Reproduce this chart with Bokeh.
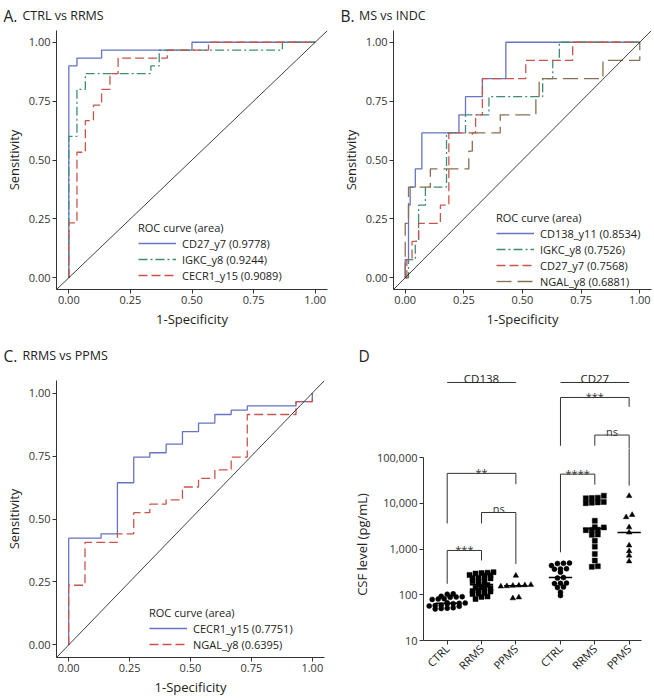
import numpy as np
from bokeh.plotting import figure
from bokeh.layouts import column, row
from bokeh.models import (Range1d, FixedTicker, PrintfTickFormatter, NumeralTickFormatter,
                          Legend, LegendItem, Slope, CustomJSTickFormatter)
from bokeh.core.properties import value
from bokeh.embed import file_html
from bokeh.resources import INLINE

FONT = "Open Sans"
BLUE = "#6674c2"
GREEN = "#3f8c78"
RED = "#c8564c"
BROWN = "#8a6f52"
INK = "#222222"
AXC = "#333333"

# ---------------- Panel A: CTRL vs RRMS ----------------
a_cd27_fpr = [0, 0, 0.033, 0.033, 0.133, 0.133, 0.5, 0.5, 1.0]
a_cd27_tpr = [0, 0.9, 0.9, 0.933, 0.933, 0.967, 0.967, 1.0, 1.0]
a_igkc_fpr = [0, 0, 0.033, 0.033, 0.067, 0.067, 0.333, 0.333, 0.367, 0.367, 0.867, 0.867, 1.0]
a_igkc_tpr = [0, 0.6, 0.6, 0.8, 0.8, 0.867, 0.867, 0.9, 0.9, 0.967, 0.967, 1.0, 1.0]
a_cecr1_fpr = [0, 0, 0.033, 0.033, 0.067, 0.067, 0.1, 0.1, 0.133, 0.133, 0.167, 0.167,
               0.2, 0.2, 0.4, 0.4, 0.567, 0.567, 1.0]
a_cecr1_tpr = [0, 0.233, 0.233, 0.533, 0.533, 0.667, 0.667, 0.733, 0.733, 0.8, 0.8, 0.867,
               0.867, 0.933, 0.933, 0.967, 0.967, 1.0, 1.0]
a_labels = ["CD27_y7 (0.9778)", "IGKC_y8 (0.9244)", "CECR1_y15 (0.9089)"]

# ---------------- Panel B: MS vs INDC ----------------
b_cd138_fpr = [0, 0, 0.014, 0.014, 0.021, 0.021, 0.043, 0.043, 0.071, 0.071, 0.229, 0.229,
               0.257, 0.257, 0.329, 0.329, 0.429, 0.429, 1.0]
b_cd138_tpr = [0, 0.077, 0.077, 0.308, 0.308, 0.385, 0.385, 0.462, 0.462, 0.615, 0.615, 0.692,
               0.692, 0.769, 0.769, 0.846, 0.846, 1.0, 1.0]
b_igkc_fpr = [0, 0.014, 0.014, 0.043, 0.043, 0.057, 0.057, 0.086, 0.086, 0.176, 0.176, 0.257,
              0.257, 0.357, 0.357, 0.586, 0.586, 0.629, 0.629, 0.657, 0.657, 1.0]
b_igkc_tpr = [0, 0, 0.077, 0.077, 0.154, 0.154, 0.308, 0.308, 0.385, 0.385, 0.615, 0.615,
              0.692, 0.692, 0.769, 0.769, 0.846, 0.846, 0.923, 0.923, 1.0, 1.0]
b_cd27_fpr = [0, 0.007, 0.007, 0.029, 0.029, 0.057, 0.057, 0.150, 0.150, 0.186, 0.186, 0.300,
              0.300, 0.329, 0.329, 0.514, 0.514, 0.714, 0.714, 1.0]
b_cd27_tpr = [0, 0, 0.077, 0.077, 0.154, 0.154, 0.231, 0.231, 0.308, 0.308, 0.615, 0.615,
              0.692, 0.692, 0.846, 0.846, 0.923, 0.923, 1.0, 1.0]
b_ngal_fpr = [0, 0, 0.014, 0.014, 0.107, 0.107, 0.271, 0.271, 0.286, 0.286, 0.405, 0.405,
              0.557, 0.557, 0.571, 0.571, 0.843, 0.843, 1.0, 1.0]
b_ngal_tpr = [0, 0.231, 0.231, 0.385, 0.385, 0.462, 0.462, 0.538, 0.538, 0.615, 0.615, 0.692,
              0.692, 0.769, 0.769, 0.846, 0.846, 0.923, 0.923, 1.0]
b_labels = ["CD138_y11 (0.8534)", "IGKC_y8 (0.7526)", "CD27_y7 (0.7568)", "NGAL_y8 (0.6881)"]

# ---------------- Panel C: RRMS vs PPMS ----------------
c_cecr1_fpr = [0, 0, 0.133, 0.133, 0.2, 0.2, 0.267, 0.267, 0.333, 0.333, 0.4, 0.4, 0.467, 0.467,
               0.533, 0.533, 0.6, 0.6, 0.667, 0.667, 0.733, 0.733, 0.933, 0.933, 1.0, 1.0]
c_cecr1_tpr = [0, 0.424, 0.424, 0.441, 0.441, 0.644, 0.644, 0.746, 0.746, 0.763, 0.763, 0.797,
               0.797, 0.847, 0.847, 0.881, 0.881, 0.915, 0.915, 0.932, 0.932, 0.949, 0.949,
               0.966, 0.966, 1.0]
c_ngal_fpr = [0, 0, 0.067, 0.067, 0.2, 0.2, 0.267, 0.267, 0.333, 0.333, 0.4, 0.4, 0.467, 0.467,
              0.533, 0.533, 0.6, 0.6, 0.667, 0.667, 0.733, 0.733, 0.933, 0.933, 1.0, 1.0]
c_ngal_tpr = [0, 0.237, 0.237, 0.407, 0.407, 0.441, 0.441, 0.525, 0.525, 0.559, 0.559, 0.576,
              0.576, 0.627, 0.627, 0.661, 0.661, 0.695, 0.695, 0.746, 0.746, 0.915, 0.915,
              0.966, 0.966, 1.0]
c_labels = ["CECR1_y15 (0.7751)", "NGAL_y8 (0.6395)"]

# ---------------- Panel D: CSF levels (pg/mL) ----------------
d_markers = ["CD138", "CD27"]
d_groups = ["CTRL", "RRMS", "PPMS"]
cd138_ctrl = [105, 103, 93, 91, 90, 88, 82, 81, 79, 67, 66, 65, 64, 63, 59, 58, 57, 56,
              52, 51, 50, 49]
cd138_rrms = [312, 305, 298, 292, 272, 268, 264, 236, 232, 228, 206, 202, 198, 170, 167, 164,
              145, 142, 139, 136, 124, 121, 118, 108, 106, 104, 92, 90, 81]
cd138_ppms = [263, 165, 162, 160, 158, 155, 152, 88, 84]
cd27_ctrl = [495, 488, 482, 435, 372, 368, 364, 312, 238, 232, 180, 178, 176, 148, 144, 114, 96]
cd27_rrms = [14700, 13300, 13100, 12900, 10700, 10500, 10300, 10100, 4160, 3020, 2980, 2650,
             2620, 2590, 2090, 2050, 1530, 1130, 784, 560, 420, 408]
cd27_ppms = [14500, 5600, 5000, 3000, 2300, 1200, 900, 720, 540]
d_values = [[cd138_ctrl, cd138_rrms, cd138_ppms], [cd27_ctrl, cd27_rrms, cd27_ppms]]
# significance brackets: (marker, group a, group b, top, left end, right end, label)
d_brackets = [
    (0, 0, 2, 45300, 3630, 26300, "**"),
    (0, 1, 2, 6310, 3630, 473, "ns"),
    (0, 0, 1, 933, 174, 562, "***"),
    (1, 0, 2, 2.07e6, 1.82e5, 1.29e6, "***"),
    (1, 1, 2, 3.12e5, 1.82e5, 24400, "ns"),
    (1, 0, 1, 43600, 851, 25700, "****"),
]


def style_axes(p):
    for ax in p.axis:
        ax.axis_line_color = AXC
        ax.axis_line_width = 1
        ax.major_tick_line_color = AXC
        ax.major_tick_out = 4
        ax.major_tick_in = 0
        ax.minor_tick_out = 0
        ax.minor_tick_in = 0
        ax.major_label_text_font = FONT
        ax.major_label_text_font_size = "11px"
        ax.major_label_text_color = "#333333"
        ax.major_label_standoff = 2
        ax.axis_label_text_font = FONT
        ax.axis_label_text_font_size = "13px"
        ax.axis_label_text_font_style = "normal"
        ax.axis_label_text_color = INK
        ax.axis_label_standoff = 3
    p.grid.visible = False
    p.outline_line_color = None
    p.background_fill_color = "white"
    p.border_fill_color = "white"


def bare_fig(width, height, x_range, y_range, borders=(0, 0, 0, 0), **kw):
    l, r, t, b = borders
    p = figure(width=width, height=height, x_range=x_range, y_range=y_range,
               x_axis_location=None, y_axis_location=None, output_backend="svg",
               toolbar_location=None, min_border_left=l, min_border_right=r,
               min_border_top=t, min_border_bottom=b, title=None, **kw)
    p.outline_line_color = None
    p.grid.visible = False
    p.background_fill_color = "white"
    p.border_fill_color = "white"
    return p


def title_strip(width, height, letter, sub, lx, sx, base_from_top):
    p = bare_fig(width, height, Range1d(0, width), Range1d(0, height))
    y = height - base_from_top
    p.text(x=[lx], y=[y], text=[letter], text_font=value(FONT), text_font_size="15.5px",
           text_color=INK, text_baseline="alphabetic", text_align="left")
    if sub:
        p.text(x=[sx], y=[y], text=[sub], text_font=value(FONT), text_font_size="12.5px",
               text_color=INK, text_baseline="alphabetic", text_align="left")
    return p


def roc_fig(width, height, borders, curves, labels, legend_loc):
    left, right, top, bottom = borders
    p = figure(width=width, height=height, x_range=Range1d(-0.05, 1.05),
               y_range=Range1d(-0.05, 1.05), output_backend="svg", toolbar_location=None,
               min_border_left=left, min_border_right=right, min_border_top=top,
               min_border_bottom=bottom, title=None)
    style_axes(p)
    ticks = [0, 0.25, 0.5, 0.75, 1.0]
    p.xaxis.ticker = FixedTicker(ticks=ticks)
    p.yaxis.ticker = FixedTicker(ticks=ticks)
    p.xaxis.formatter = PrintfTickFormatter(format="%.2f")
    p.yaxis.formatter = PrintfTickFormatter(format="%.2f")
    p.xaxis.axis_label = "1-Specificity"
    p.yaxis.axis_label = "Sensitivity"
    p.add_layout(Slope(gradient=1, y_intercept=0, line_color="#111111", line_width=0.8))
    items = []
    for (fx, fy, color, dash), lab in zip(curves, labels):
        r = p.line(fx, fy, line_color=color, line_width=1.3, line_dash=dash)
        items.append(LegendItem(label=lab, renderers=[r]))
    leg = Legend(items=items, location=legend_loc, title="ROC curve (area)",
                 padding=0, margin=0, spacing=0, label_height=16, glyph_height=16,
                 glyph_width=38, label_standoff=6, border_line_alpha=0,
                 background_fill_alpha=0, title_standoff=0,
                 title_text_font=FONT, title_text_font_size="11px",
                 title_text_font_style="normal", title_text_color=INK,
                 label_text_font=FONT, label_text_font_size="11px", label_text_color=INK)
    p.add_layout(leg)
    return p


DOTDASH = "9 3 2 3"
DASH = "9 4"
LONGDASH = "15 6"

tA = title_strip(328, 26, "A.", "CTRL vs RRMS", 3, 22, 15)
tB = title_strip(326, 26, "B.", "MS vs INDC", 12, 30.5, 15)
pA = roc_fig(328, 304, (56, 1, 4, 39),
             [(a_cd27_fpr, a_cd27_tpr, BLUE, "solid"),
              (a_igkc_fpr, a_igkc_tpr, GREEN, DOTDASH),
              (a_cecr1_fpr, a_cecr1_tpr, RED, DASH)],
             a_labels, (82, 6))
pB = roc_fig(326, 304, (65, 3, 4, 39),
             [(b_cd138_fpr, b_cd138_tpr, BLUE, "solid"),
              (b_igkc_fpr, b_igkc_tpr, GREEN, DOTDASH),
              (b_cd27_fpr, b_cd27_tpr, RED, DASH),
              (b_ngal_fpr, b_ngal_tpr, BROWN, LONGDASH)],
             b_labels, (103, 0))

STRIP2_H = 36
tC = title_strip(328, STRIP2_H, "C.", "RRMS vs PPMS", 3, 22, 25)
tD = title_strip(326, STRIP2_H, "D", None, 30, 0, 25)
pC = roc_fig(328, 368 - STRIP2_H, (56, 4, 14, 40),
             [(c_cecr1_fpr, c_cecr1_tpr, BLUE, "solid"),
              (c_ngal_fpr, c_ngal_tpr, RED, DASH)],
             c_labels, (93, 5))

# ---------------- Panel D figures (data part + annotation part above) ----------------
D_W = 326
D_L, D_R = 95, 13
D_BOT_H, D_BOT_B = 250, 58
D_TOP_H = 368 - STRIP2_H - D_BOT_H
XR = (0.31, 6.66)
L_SPLIT = 5.2
px_per_x = (D_W - D_L - D_R) / (XR[1] - XR[0])
px_per_dec = (D_BOT_H - D_BOT_B) / (L_SPLIT - 1)

pD = figure(width=D_W, height=D_BOT_H, x_range=Range1d(*XR), y_range=Range1d(10, 10 ** L_SPLIT),
            y_axis_type="log", output_backend="svg", toolbar_location=None,
            min_border_left=D_L, min_border_right=D_R, min_border_top=0,
            min_border_bottom=D_BOT_B, title=None)
style_axes(pD)

top_L_max = L_SPLIT + D_TOP_H / px_per_dec
pDt = bare_fig(D_W, D_TOP_H, Range1d(*XR), Range1d(10 ** L_SPLIT, 10 ** top_L_max),
               borders=(D_L, D_R, 0, 0), y_axis_type="log")


def cat_pos(m, g):
    return round(m * 3.3 + g + 1, 2)


def row_offsets(vals, center, h=3.0, s=6.0):
    """GraphPad-like scatter: points close in y share a row, spread evenly in x."""
    ys = np.log10(np.asarray(vals, float)) * px_per_dec
    order = np.argsort(ys)
    xs = np.zeros(len(vals))
    rows, cur, start = [], [], None
    for i in order:
        if start is None or ys[i] - start > h:
            if cur:
                rows.append(cur)
            cur, start = [i], ys[i]
        else:
            cur.append(i)
    if cur:
        rows.append(cur)
    for r in rows:
        n = len(r)
        for k, i in enumerate(r):
            xs[i] = center + (k - (n - 1) / 2) * s / px_per_x
    return xs


markers = {"CTRL": ("circle", 5), "RRMS": ("square", 5), "PPMS": ("triangle", 5.5)}
positions, tick_names = [], []
for m, mname in enumerate(d_markers):
    for g, gname in enumerate(d_groups):
        pos = cat_pos(m, g)
        positions.append(pos)
        tick_names.append(gname)
        vals = d_values[m][g]
        xs = row_offsets(vals, pos)
        mk, sz = markers[gname]
        pD.scatter(xs, vals, marker=mk, size=sz, fill_color="black", line_color="black",
                   line_width=0.5)
        med = float(np.median(vals))
        pD.segment(x0=[pos - 0.34], x1=[pos + 0.34], y0=[med], y1=[med],
                   line_color="black", line_width=1.6)

# brackets: lines drawn in both parts (each clips to its frame), texts only where they lie
bx, by = [], []
txt = {"top": ([], [], [], []), "bot": ([], [], [], [])}
for m, ga, gb, top, le, re, lab in d_brackets:
    xa, xb = cat_pos(m, ga), cat_pos(m, gb)
    bx.append([xa, xa, xb, xb])
    by.append([le, top, top, re])
    key = "top" if np.log10(top) > L_SPLIT else "bot"
    txt[key][0].append((xa + xb) / 2)
    txt[key][1].append(top)
    txt[key][2].append(lab)
    txt[key][3].append(-4 if lab == "ns" else -1)

for fig, key in ((pD, "bot"), (pDt, "top")):
    fig.multi_line(bx, by, line_color="#333333", line_width=1)
    x_, y_, t_, o_ = txt[key]
    if t_:
        fig.text(x=x_, y=y_, text=t_, y_offset=o_, text_align="center",
                 text_baseline="alphabetic", text_font=value(FONT), text_font_size="11px",
                 text_color="#333333")

g_line = 10 ** 6.644
g_text = 10 ** 6.731
pDt.segment(x0=[cat_pos(m, 0) for m in range(2)], x1=[cat_pos(m, 2) for m in range(2)],
            y0=[g_line] * 2, y1=[g_line] * 2, line_color="#333333", line_width=1)
pDt.text(x=[cat_pos(m, 1) for m in range(2)], y=[g_text] * 2, text=d_markers,
         text_align="center", text_baseline="alphabetic", text_font=value(FONT),
         text_font_size="11.5px", text_color=INK)

pD.yaxis.ticker = FixedTicker(ticks=[10, 100, 1000, 10000, 100000])
pD.yaxis.formatter = NumeralTickFormatter(format="0,0")
pD.yaxis.bounds = (10, 100000)
pD.yaxis.axis_label = "CSF level (pg/mL)"
pD.xaxis.ticker = FixedTicker(ticks=positions)
pD.xaxis.formatter = CustomJSTickFormatter(
    args=dict(pos=positions, names=tick_names),
    code="""
    for (let i = 0; i < pos.length; i++) {
        if (Math.abs(pos[i] - tick) < 1e-6) { return names[i]; }
    }
    return "";
    """)
pD.xaxis.major_label_orientation = np.pi / 4
pD.xaxis.major_label_text_color = "#222222"

layout = column(row(tA, tB), row(pA, pB), row(tC, tD),
                row(pC, column(pDt, pD)))
open("out.html", "w").write(file_html(layout, INLINE))
